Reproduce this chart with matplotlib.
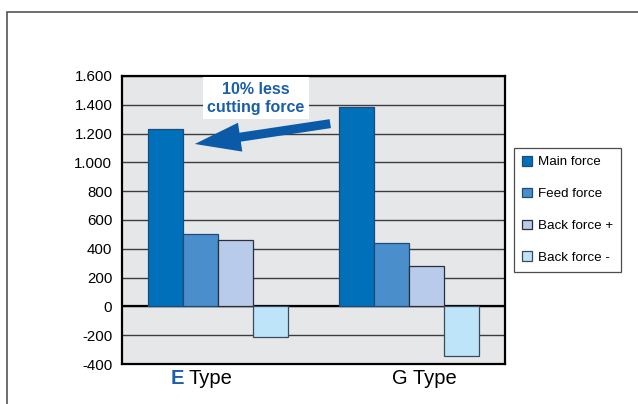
import matplotlib.pyplot as plt
import numpy as np
from matplotlib.patches import Rectangle

plt.rcParams["font.family"] = ["Liberation Sans", "DejaVu Sans"]

# data
categories = ["E Type", "G Type"]
series_names = ["Main force", "Feed force", "Back force +", "Back force -"]
main_force = [1230, 1382]
feed_force = [505, 442]
back_plus = [463, 281]
back_minus = [-210, -344]
yticks = [1600, 1400, 1200, 1000, 800, 600, 400, 200, 0, -200, -400]
ytick_labels = ["1.600", "1.400", "1.200", "1.000", "800", "600", "400",
                "200", "0", "-200", "-400"]

colors = ["#0070ba", "#4a8fcb", "#b9cbea", "#bde4f8"]
edges = ["#1d4a78", "#1d4a78", "#2a2f3a", "#3a4a5a"]
blue_text = "#1a5fa8"

fig = plt.figure(figsize=(6.38, 4.04), dpi=100)
ax = fig.add_axes([0.1912, 0.099, 0.6003, 0.7129])
ax.set_facecolor("#e6e7e9")

x = np.arange(len(categories))
width = 0.183
values = [main_force, feed_force, back_plus, back_minus]
for i, (vals, name) in enumerate(zip(values, series_names)):
    ax.bar(x + (i - 1.5) * width, vals, width, color=colors[i],
           edgecolor=edges[i], linewidth=0.9, label=name, zorder=3)

ax.set_xlim(-0.5, 1.5)
ax.set_ylim(-400, 1600)
ax.set_yticks(yticks)
ax.set_yticklabels(ytick_labels, fontsize=10.8)
ax.tick_params(axis="y", length=0, pad=7)
ax.set_xticks([])
ax.grid(axis="y", color="#3c3c3c", lw=1.0, zorder=1)
ax.axhline(0, color="black", lw=1.6, zorder=2)
for sp in ax.spines.values():
    sp.set_linewidth(1.6)
    sp.set_color("black")

# category labels (E highlighted)
ax.annotate("E", xy=(-0.166, 0), xycoords=("data", "axes fraction"),
            xytext=(-2, -14), textcoords="offset pixels",
            ha="right", va="center", fontsize=14.5, fontweight="bold",
            color=blue_text)
ax.annotate("Type", xy=(-0.166, 0), xycoords=("data", "axes fraction"),
            xytext=(3, -14), textcoords="offset pixels",
            ha="left", va="center", fontsize=14.5, color="black")
ax.annotate("G Type", xy=(1.077, 0), xycoords=("data", "axes fraction"),
            xytext=(0, -14), textcoords="offset pixels",
            ha="center", va="center", fontsize=14.5, color="black")

# callout arrow + text
ax.annotate("", xy=(-0.134, 1125), xytext=(0.602, 1272),
            arrowprops=dict(arrowstyle="simple,head_length=33,head_width=21,tail_width=6.5",
                            mutation_scale=1, color="#0a5aa8", lw=0),
            zorder=5)
ax.text(0.2, 1445, "10% less\ncutting force", ha="center", va="center",
        fontsize=11.5, fontweight="bold", color=blue_text, linespacing=1.2,
        bbox=dict(boxstyle="square,pad=0.3", fc="white", ec="none"),
        zorder=6)

leg = fig.legend(loc="upper left", bbox_to_anchor=(0.806, 0.634),
                 bbox_transform=fig.transFigure, fontsize=9.6,
                 frameon=True, fancybox=False, edgecolor="#222222",
                 handlelength=0.75, handleheight=0.75, handletextpad=0.45,
                 labelspacing=1.45, borderpad=0.6, borderaxespad=0)
leg.get_frame().set_linewidth(0.9)

# outer frame of the page
fig.patches.append(Rectangle((7 / 638, -0.2), 1.2, 0.2 + (1 - 12 / 404),
                             transform=fig.transFigure, fill=False,
                             ec="#555555", lw=1.2, clip_on=False))

fig.savefig("out.png", dpi=100)
